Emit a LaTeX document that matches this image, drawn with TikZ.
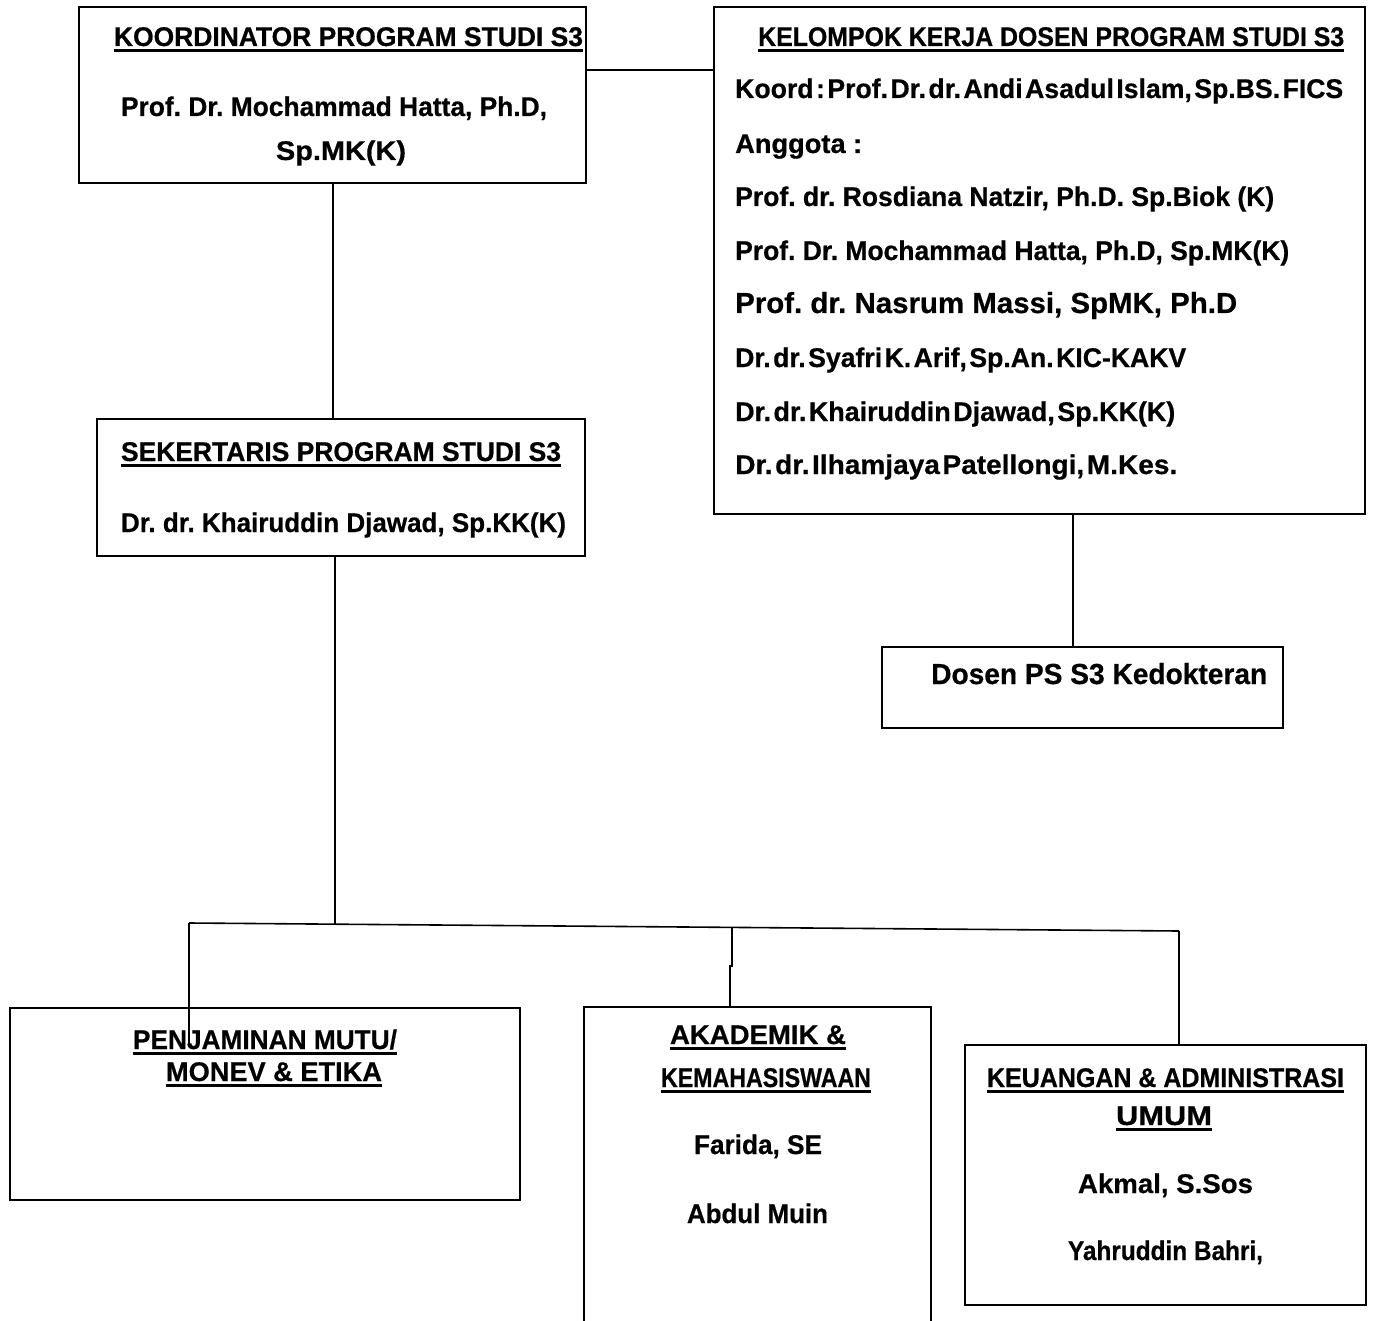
\documentclass[tikz,border=0pt]{standalone}
\usepackage{fontspec}
\setmainfont{Liberation Sans}[BoldFeatures={FakeBold=0.6}]
\usepackage{graphicx}
\usetikzlibrary{fit,calc}
\newcommand\ulx[1]{\vtop{\hbox{#1}\kern2.5pt\hrule height 3.2pt}}
\newcommand\fitw[2]{\resizebox{#1pt}{\height}{#2}}
\newcommand\tightsp{\spaceskip=2.5pt\relax}
\frenchspacing
\begin{document}
\frenchspacing
\begin{tikzpicture}[x=1pt,y=-1pt,
  box/.style={draw, line width=1.6pt, inner sep=0pt},
  wire/.style={line width=1.6pt},
  txt/.style={inner sep=0pt, font=\fontsize{27}{31}\selectfont\bfseries\frenchspacing},
  bigtxt/.style={inner sep=0pt, font=\fontsize{29}{33}\selectfont\bfseries\frenchspacing}]
\useasboundingbox (0,0) rectangle (1373,1321);
\fill[white] (0,0) rectangle (1373,1321);

% boxes
\node[box, fit={(79,7)(586,183)}] (koord) {};
\node[box, fit={(714,7)(1365,514)}] (kk) {};
\node[box, fit={(882,647)(1283,728)}] (dosen) {};
\node[box, fit={(97,419)(585,556)}] (sek) {};
\node[box, fit={(10,1008)(520,1200)}] (penj) {};
\node[inner sep=0pt, fit={(584,1007)(931,1330)}] (akad) {};
\draw[wire] (akad.south west) -- (akad.north west) -- (akad.north east) -- (akad.south east);
\node[box, fit={(965,1045)(1366,1305)}] (keu) {};

% junction coordinates
\coordinate (hk) at (650,70);
\coordinate (kv) at (333,300);
\coordinate (kx) at (1073,600);
\coordinate (jS) at (335,924);
\coordinate (jL) at (189,923);
\coordinate (jR) at (1179,931);
\coordinate (jM) at (732,927);
\coordinate (aM) at (730,1007);
\coordinate (pend) at (189,1045);

% connectors
\draw[wire] (hk -| koord.east) -- (hk -| kk.west);
\draw[wire] (kv |- koord.south) -- (kv |- sek.north);
\draw[wire] (kx |- kk.south) -- (kx |- dosen.north);
\draw[wire] (jS |- sek.south) -- (jS);
\draw[wire] (jL) -- (jR);
\draw[wire] (jM) -- ++(0,39) -- ++(-2,0) -- (aM);
\draw[wire] (jR) -- (jR |- keu.north);

% koordinator text
\node[txt, anchor=base] (t1) at (348.5,46) {\ulx{\fitw{469}{KOORDINATOR PROGRAM STUDI S3}}};
\node[txt, anchor=base] (t2) at (334,116) {\fitw{426}{Prof. Dr. Mochammad Hatta, Ph.D,}};
\node[txt, anchor=base] (t3) at (341,160) {\fitw{130}{Sp.MK(K)}};

% kelompok kerja text
\node[txt, anchor=base west] (k0) at (758,46) {\ulx{\fitw{586}{KELOMPOK KERJA DOSEN PROGRAM STUDI S3}}};
\node[txt, anchor=base west] (k1) at (735,98) {\fitw{608}{\tightsp Koord : Prof. Dr. dr. Andi Asadul Islam, Sp.BS. FICS}};
\node[txt, anchor=base west] (k2) at (735,153) {\fitw{127}{Anggota :}};
\node[txt, anchor=base west] (k3) at (735,206) {\fitw{539}{Prof. dr. Rosdiana Natzir, Ph.D. Sp.Biok (K)}};
\node[txt, anchor=base west] (k4) at (735,260) {\fitw{554}{Prof. Dr. Mochammad Hatta, Ph.D, Sp.MK(K)}};
\node[bigtxt, anchor=base west] (k5) at (735,313) {\fitw{502}{Prof. dr. Nasrum Massi, SpMK, Ph.D}};
\node[txt, anchor=base west] (k6) at (735,367) {\fitw{451}{\tightsp Dr. dr. Syafri K. Arif, Sp.An. KIC-KAKV}};
\node[txt, anchor=base west] (k7) at (735,421) {\fitw{440}{\tightsp Dr. dr. Khairuddin Djawad, Sp.KK(K)}};
\node[txt, anchor=base west] (k8) at (735,474) {\fitw{442}{\tightsp Dr. dr. Ilhamjaya Patellongi, M.Kes.}};

% dosen
\node[bigtxt, anchor=base west] (d1) at (931,684) {\fitw{336}{Dosen PS S3 Kedokteran}};

% sekertaris
\node[txt, anchor=base] (s1) at (341,461) {\ulx{\fitw{440}{SEKERTARIS PROGRAM STUDI S3}}};
\node[txt, anchor=base] (s2) at (343.5,532) {\fitw{445}{Dr. dr. Khairuddin Djawad, Sp.KK(K)}};

% penjaminan
\node[txt, anchor=base] (p1) at (265,1049) {\ulx{\fitw{264}{PENJAMINAN MUTU/}}};
\node[txt, anchor=base] (p2) at (274,1081) {\ulx{\fitw{216}{MONEV \& ETIKA}}};
\draw[wire] (jL) -- (pend);

% akademik
\node[txt, anchor=base] (a1) at (758,1044) {\ulx{\fitw{176}{AKADEMIK \&}}};
\node[txt, anchor=base] (a2) at (766,1087) {\ulx{\fitw{210}{KEMAHASISWAAN}}};
\node[txt, anchor=base] (a3) at (758,1154) {\fitw{128}{Farida, SE}};
\node[txt, anchor=base] (a4) at (757.5,1223) {\fitw{141}{Abdul Muin}};

% keuangan
\node[txt, anchor=base] (u1) at (1165.5,1087) {\ulx{\fitw{357}{KEUANGAN \& ADMINISTRASI}}};
\node[txt, anchor=base] (u2) at (1164,1125) {\ulx{\fitw{96}{UMUM}}};
\node[txt, anchor=base] (u3) at (1165.5,1193) {\fitw{175}{Akmal, S.Sos}};
\node[txt, anchor=base] (u4) at (1165.5,1260) {\fitw{195}{Yahruddin Bahri,}};
\end{tikzpicture}
\end{document}
